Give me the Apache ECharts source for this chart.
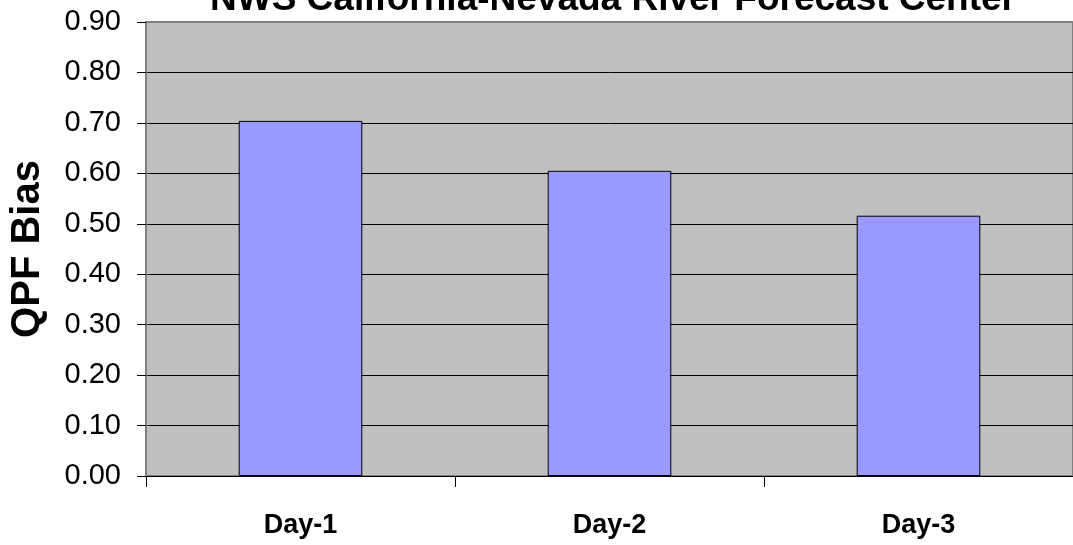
<!DOCTYPE html>
<html>
<head>
<meta charset="utf-8">
<script src="https://cdn.jsdelivr.net/npm/echarts@6/dist/echarts.min.js"></script>
<style>
    html, body { margin: 0; padding: 0; background: #fff; }
    #chartView { width: 1073px; height: 545px; }
</style>
</head>
<body>
<div id="chartView"></div>
<script>
    // 数据
    var categories = ['Day-1', 'Day-2', 'Day-3'];
    var biasValues = [0.704, 0.605, 0.516];
    var titleText = 'NWS California-Nevada River Forecast Center';
    var yAxisName = 'QPF Bias';

    var chartView = echarts.init(document.getElementById('chartView'));

    var option = {
        animation: false,
        title: {
            text: titleText,
            left: 608,
            textAlign: 'center',
            top: -24,
            textStyle: {
                fontFamily: 'Liberation Sans',
                fontWeight: 'bold',
                fontSize: 37,
                color: '#000'
            }
        },
        grid: {
            left: 145,
            right: -2,
            top: 22,
            bottom: 69,
            show: true,
            backgroundColor: '#C0C0C0',
            borderColor: '#808080',
            borderWidth: 2
        },
        xAxis: [
            {
                type: 'category',
                data: categories,
                axisLine: {
                    lineStyle: { color: '#000', width: 1 }
                },
                axisTick: {
                    show: true,
                    alignWithLabel: false,
                    interval: 0,
                    length: 11,
                    lineStyle: { color: '#000' }
                },
                axisLabel: {
                    interval: 0,
                    margin: 36,
                    fontFamily: 'Liberation Sans',
                    fontWeight: 'bold',
                    fontSize: 27,
                    color: '#000'
                },
                splitLine: { show: false }
            }
        ],
        yAxis: [
            {
                type: 'value',
                min: 0,
                max: 0.9,
                interval: 0.1,
                name: yAxisName,
                nameLocation: 'middle',
                nameGap: 98,
                nameTextStyle: {
                    fontFamily: 'Liberation Sans',
                    fontWeight: 'bold',
                    fontSize: 40,
                    color: '#000'
                },
                axisLine: {
                    show: true,
                    lineStyle: { color: '#808080', width: 1 }
                },
                axisTick: {
                    show: true,
                    length: 9,
                    lineStyle: { color: '#000' }
                },
                axisLabel: {
                    margin: 25,
                    fontFamily: 'Liberation Sans',
                    fontSize: 29,
                    color: '#000',
                    formatter: function (v) { return v.toFixed(2); }
                },
                splitLine: {
                    show: true,
                    showMaxLine: false,
                    lineStyle: { color: '#000', width: 1 }
                }
            }
        ],
        series: [
            {
                type: 'bar',
                barWidth: '40%',
                data: biasValues,
                itemStyle: {
                    color: '#9999FF',
                    borderColor: '#000',
                    borderWidth: 1
                }
            }
        ]
    };

    chartView.setOption(option);
</script>
</body>
</html>
